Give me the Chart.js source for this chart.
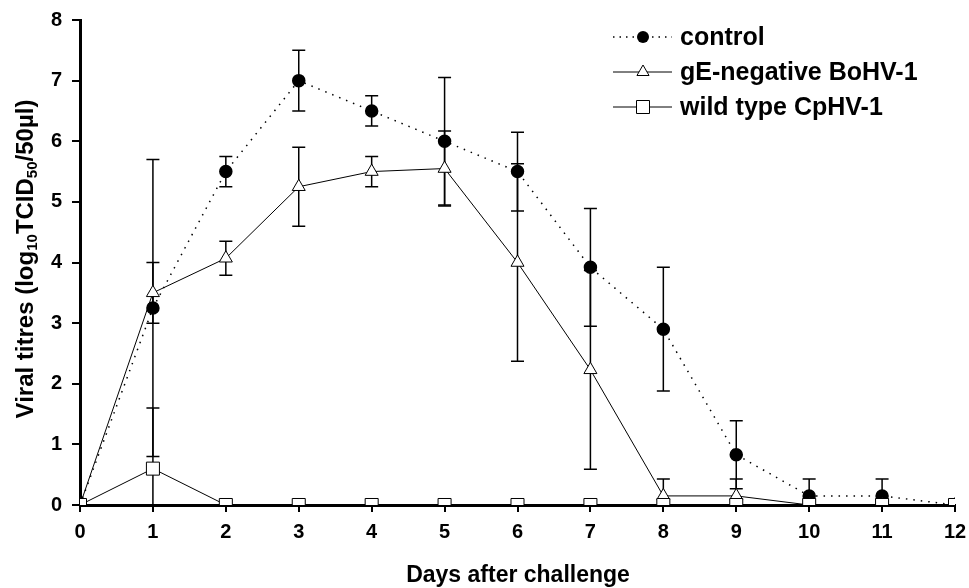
<!DOCTYPE html>
<html>
<head>
<meta charset="utf-8">
<script src="https://cdn.jsdelivr.net/npm/chart.js@4.4.1/dist/chart.umd.min.js"></script>
<style>
  html, body { margin: 0; padding: 0; background: #fff; }
  #wrap { width: 969px; height: 588px; }
</style>
</head>
<body>
<div id="wrap"><canvas id="titreChart"></canvas></div>
<script>
// --- data ---
const days = [0, 1, 2, 3, 4, 5, 6, 7, 8, 9, 10, 11, 12];
const yTicks = [0, 1, 2, 3, 4, 5, 6, 7, 8];

const controlMean = [0, 3.25, 5.5, 7.0, 6.5, 6.0, 5.5, 3.92, 2.9, 0.83, 0.15, 0.15, 0];
const controlErr  = [0, 2.45, 0.25, 0.5, 0.25, 1.05, 0.65, 0.97, 1.02, 0.56, 0.28, 0.28, 0];

const gENegMean = [0, 3.5, 4.07, 5.25, 5.5, 5.55, 4.0, 2.23, 0.15, 0.15, 0, 0, 0];
const gENegErr  = [0, 0.5, 0.28, 0.65, 0.25, 0.62, 1.63, 1.64, 0.28, 0.28, 0, 0, 0];

const wildMean = [0, 0.6, 0, 0, 0, 0, 0, 0, 0, 0, 0, 0, 0];
const wildErr  = [0, 1.0, 0, 0, 0, 0, 0, 0, 0, 0, 0, 0, 0];

const seriesNames = ['control', 'gE-negative BoHV-1', 'wild type CpHV-1'];
const xTitle = 'Days after challenge';

const FONT = '"Liberation Sans", Arial, sans-serif';

const toPoints = (vals) => days.map((d, i) => ({ x: d, y: vals[i] }));

// error bars, drawn under the markers
const errorBars = {
    id: 'errorBars',
    beforeDatasetsDraw(chart) {
        const { ctx, scales: { x, y } } = chart;
        const errs = [controlErr, gENegErr, wildErr];
        const means = [controlMean, gENegMean, wildMean];
        ctx.save();
        ctx.strokeStyle = '#000';
        ctx.lineWidth = 1.5;
        errs.forEach((err, s) => {
            err.forEach((e, i) => {
                if (!e) return;
                const px = x.getPixelForValue(days[i]);
                const top = y.getPixelForValue(means[s][i] + e);
                const bot = y.getPixelForValue(Math.max(0, means[s][i] - e));
                ctx.beginPath();
                ctx.moveTo(px, top); ctx.lineTo(px, bot);
                ctx.moveTo(px - 6.5, top); ctx.lineTo(px + 6.5, top);
                if (means[s][i] - e > 0) {
                    ctx.moveTo(px - 6.5, bot); ctx.lineTo(px + 6.5, bot);
                }
                ctx.stroke();
            });
        });
        ctx.restore();
    }
};

// axis titles and legend
const decorations = {
    id: 'decorations',
    afterDraw(chart) {
        const { ctx } = chart;
        ctx.save();
        ctx.fillStyle = '#000';

        // x title
        ctx.font = 'bold 23px ' + FONT;
        ctx.textAlign = 'center';
        ctx.textBaseline = 'middle';
        ctx.fillText(xTitle, 518, 576);

        // y title with subscripts
        const parts = [
            ['Viral titres (log', false], ['10', true], ['TCID', false],
            ['50', true], ['/50\u00b5l)', false]
        ];
        const mainFont = 'bold 24px ' + FONT;
        const subFont = 'bold 15px ' + FONT;
        let total = 0;
        parts.forEach(([t, sub]) => { ctx.font = sub ? subFont : mainFont; total += ctx.measureText(t).width; });
        ctx.translate(25, 259);
        ctx.rotate(-Math.PI / 2);
        ctx.textAlign = 'left';
        ctx.textBaseline = 'alphabetic';
        let cx = -total / 2;
        parts.forEach(([t, sub]) => {
            ctx.font = sub ? subFont : mainFont;
            ctx.fillText(t, cx, sub ? 12 : 8);
            cx += ctx.measureText(t).width;
        });
        ctx.setTransform(1, 0, 0, 1, 0, 0);

        // legend
        const rows = [37, 72, 107];
        const x0 = 613, x1 = 672, mx = 643;
        rows.forEach((ry, i) => {
            ctx.strokeStyle = '#000';
            ctx.lineWidth = i === 0 ? 1.5 : 1;
            ctx.setLineDash(i === 0 ? [1.5, 5] : []);
            ctx.beginPath();
            ctx.moveTo(x0, ry); ctx.lineTo(x1, ry);
            ctx.stroke();
            ctx.setLineDash([]);
            ctx.beginPath();
            if (i === 0) {
                ctx.arc(mx, ry, 6, 0, Math.PI * 2);
                ctx.fillStyle = '#000';
                ctx.fill();
            } else if (i === 1) {
                const r = 7;
                ctx.moveTo(mx, ry - r);
                ctx.lineTo(mx + r * 0.866, ry + r / 2);
                ctx.lineTo(mx - r * 0.866, ry + r / 2);
                ctx.closePath();
                ctx.fillStyle = '#fff';
                ctx.fill();
                ctx.stroke();
            } else {
                ctx.rect(mx - 6.5, ry - 6.5, 13, 13);
                ctx.fillStyle = '#fff';
                ctx.fill();
                ctx.stroke();
            }
            ctx.fillStyle = '#000';
            ctx.font = 'bold 25px ' + FONT;
            ctx.textAlign = 'left';
            ctx.textBaseline = 'middle';
            ctx.fillText(seriesNames[i], 680, ry + 1);
        });
        ctx.restore();
    }
};

const axisStyle = {
    grid: { drawOnChartArea: false, drawTicks: true, color: '#000', lineWidth: 2, tickLength: 8 },
    border: { display: true, color: '#000', width: 3 },
    ticks: { color: '#000', font: { family: FONT, size: 20, weight: 'bold' }, stepSize: 1 }
};

new Chart(document.getElementById('titreChart'), {
    type: 'line',
    data: {
        datasets: [
            {
                label: seriesNames[0],
                data: toPoints(controlMean),
                borderColor: '#000',
                borderWidth: 1.5,
                borderDash: [1.5, 6],
                pointStyle: 'circle',
                pointRadius: 6,
                pointBackgroundColor: '#000',
                pointBorderColor: '#000',
                order: 3
            },
            {
                label: seriesNames[1],
                data: toPoints(gENegMean),
                borderColor: '#000',
                borderWidth: 1,
                pointStyle: 'triangle',
                pointRadius: 7.5,
                pointBackgroundColor: '#fff',
                pointBorderColor: '#000',
                pointBorderWidth: 1,
                order: 2
            },
            {
                label: seriesNames[2],
                data: toPoints(wildMean),
                borderColor: '#000',
                borderWidth: 1,
                pointStyle: 'rect',
                pointRadius: 9.2,
                pointBackgroundColor: '#fff',
                pointBorderColor: '#000',
                pointBorderWidth: 1,
                order: 1
            }
        ]
    },
    options: {
        responsive: true,
        maintainAspectRatio: false,
        animation: false,
        layout: { padding: { top: 20, right: 14, left: 0, bottom: 0 } },
        scales: {
            x: {
                type: 'linear',
                min: 0,
                max: 12,
                ...axisStyle,
                grid: { ...axisStyle.grid, tickLength: 7 },
                ticks: { ...axisStyle.ticks, padding: 8, maxRotation: 0 },
                afterFit: (s) => { s.height = 83; s.paddingLeft = 0; s.paddingRight = 0; }
            },
            y: {
                min: 0,
                max: 8,
                ...axisStyle,
                ticks: { ...axisStyle.ticks, padding: 10 },
                afterBuildTicks: (s) => { s.ticks = yTicks.map(v => ({ value: v })); },
                afterFit: (s) => { s.width = 80; s.paddingTop = 0; s.paddingBottom = 0; }
            }
        },
        plugins: {
            legend: { display: false },
            tooltip: { enabled: false }
        }
    },
    plugins: [errorBars, decorations]
});
</script>
</body>
</html>
